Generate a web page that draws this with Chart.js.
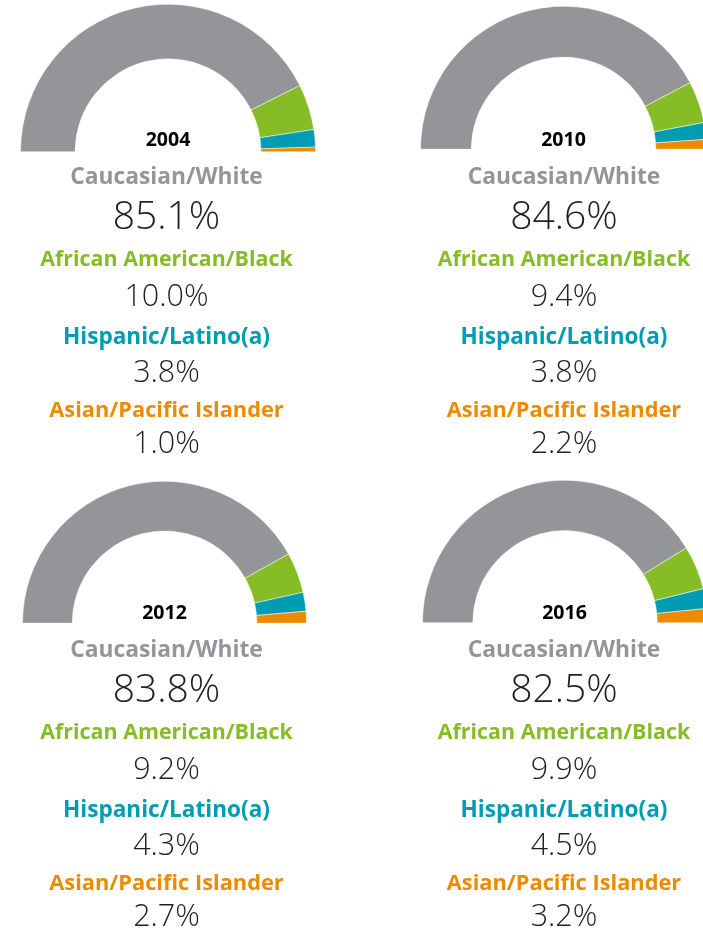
<!DOCTYPE html>
<html>
<head>
<meta charset="utf-8">
<script src="https://cdn.jsdelivr.net/npm/chart.js@4/dist/chart.umd.min.js"></script>
<style>
  html, body { margin: 0; padding: 0; background: #fff; }
  body { width: 703px; height: 929px; position: relative; overflow: hidden; font-family: "Open Sans", sans-serif; }
  .gauge { position: absolute; }
  .txt { position: absolute; width: 340px; margin-left: -170px; text-align: center; line-height: 1; transform: translateY(-50%); white-space: nowrap; }
  .year { font-weight: 700; font-size: 19.5px; color: #000; }
  .cat { font-weight: 700; font-size: 21.4px; }
  .cat0 { font-size: 22.8px; }
  .cat2 { font-size: 22.6px; }
  .cat3 { font-size: 21.8px; }
  .big { font-weight: 300; font-size: 39px; color: #231f20; }
  .num { font-weight: 300; font-size: 30.5px; color: #231f20; }
</style>
</head>
<body>
<script>
// valeurs (en %)
const years = ["2004", "2010", "2012", "2016"];
const categories = ["Caucasian/White", "African American/Black", "Hispanic/Latino(a)", "Asian/Pacific Islander"];
const white = [85.1, 84.6, 83.8, 82.5];
const black = [10.0, 9.4, 9.2, 9.9];
const hispanic = [3.8, 3.8, 4.3, 4.5];
const asian = [1.0, 2.2, 2.7, 3.2];
const colors = ["#939598", "#86bc25", "#009cb4", "#ed8b00"];

// position de chaque demi-anneau : centre x, base y, rayon, cutout
const panels = [
  { cx: 168, cy: 152, r: 148, cut: "63%" },
  { cx: 563.5, cy: 149, r: 143.5, cut: "64.5%" },
  { cx: 164.5, cy: 623, r: 142.5, cut: "65%" },
  { cx: 564.5, cy: 623, r: 143, cut: "64.7%" }
];
// décalages verticaux des textes sous chaque anneau
const textOffsets = [-13, 24, 61, 106, 142, 184, 218, 257, 289];

function addText(cls, text, x, y, color) {
  const d = document.createElement("div");
  d.className = "txt " + cls;
  d.textContent = text;
  d.style.left = x + "px";
  d.style.top = y + "px";
  if (color) d.style.color = color;
  document.body.appendChild(d);
}

years.forEach((year, i) => {
  const p = panels[i];
  const box = document.createElement("div");
  box.className = "gauge";
  box.style.left = (p.cx - p.r) + "px";
  box.style.top = (p.cy - p.r) + "px";
  box.style.width = (2 * p.r) + "px";
  box.style.height = p.r + "px";
  const canvas = document.createElement("canvas");
  box.appendChild(canvas);
  document.body.appendChild(box);

  const values = [white[i], black[i], hispanic[i], asian[i]];
  new Chart(canvas.getContext("2d"), {
    type: "doughnut",
    data: {
      labels: categories,
      datasets: [{
        data: values,
        backgroundColor: colors,
        borderColor: "#ffffff",
        borderWidth: 0.5
      }]
    },
    options: {
      responsive: true,
      maintainAspectRatio: false,
      animation: false,
      rotation: -90,
      circumference: 180,
      cutout: p.cut,
      layout: { padding: 0 },
      plugins: { legend: { display: false }, tooltip: { enabled: false } }
    }
  });

  const tx = i % 2 === 0 ? 166.5 : 564;
  const base = i < 2 ? 152 : 625;
  addText("year", year, p.cx, base + textOffsets[0]);
  values.forEach((v, k) => {
    addText("cat cat" + k, categories[k], tx, base + textOffsets[1 + 2 * k], colors[k]);
    addText(k === 0 ? "big" : "num", v.toFixed(1) + "%", tx, base + textOffsets[2 + 2 * k]);
  });
});
</script>
</body>
</html>
